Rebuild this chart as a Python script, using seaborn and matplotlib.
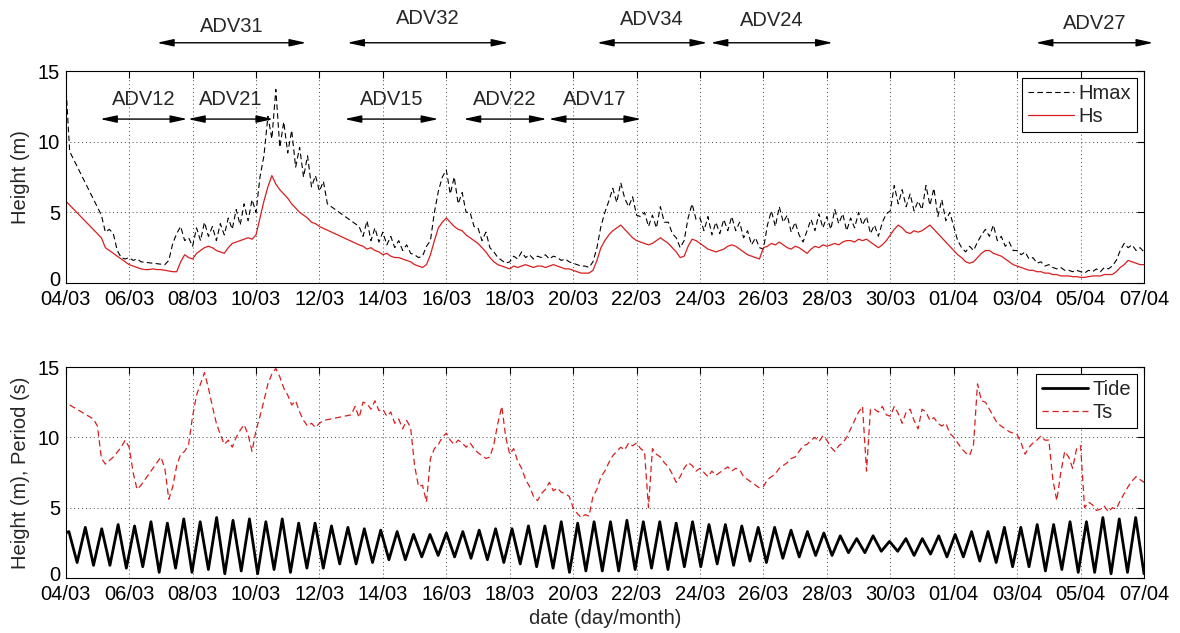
import numpy as np
import pandas as pd
import matplotlib
matplotlib.use("Agg")
import matplotlib.pyplot as plt
import matplotlib.dates as mdates
import matplotlib.transforms as mtransforms
import seaborn as sns

# TIME AXIS
start = pd.Timestamp("2013-03-04")
end = pd.Timestamp("2013-04-07")
step_hours = 3  # wave series every 3 hours

# WAVE HEIGHT Hmax (m), one row per day (04/03 ... 06/04), None = no data
hmax = [
    14.2, 9.3, None, None, None, None, None, None,
    None, 4.8, 3.6, 3.8, 3.5, 2.3, 1.8, 1.7,
    1.8, 1.6, 1.7, 1.5, None, None, None, None,
    None, 1.3, 1.6, 2.8, 3.5, 4.0, 3.0, 3.2,
    2.6, 3.9, 3.0, 4.3, 3.3, 4.0, 3.0, 4.2,
    3.4, 4.6, 3.8, 5.2, 4.1, 5.6, 4.4, 5.9,
    5.0, 7.5, 9.0, 11.8, 10.2, 13.7, 9.6, 11.4,
    9.2, 10.8, 8.2, 9.6, 7.5, 9.0, 6.8, 7.6,
    6.5, 7.2, 5.6, None, None, None, None, None,
    None, None, 4.0, 3.3, 4.4, 3.0, 3.9, 2.9,
    3.6, 2.7, 3.3, 2.5, 3.0, 2.3, 2.7, 2.1,
    2.0, 1.8, 1.9, 2.6, 3.0, 5.0, 6.5, 7.5,
    8.0, 6.3, 7.5, 5.6, 6.4, 5.0, 5.0, 4.0,
    3.9, 3.0, 3.6, 2.5, 2.2, 1.8, 1.6, 1.4,
    1.5, 1.9, 1.7, 2.2, 1.8, 2.0, 1.7, 1.9,
    1.8, 2.0, 1.7, 1.9, 1.8, 1.6, 1.7, 1.5,
    1.4, 1.3, 1.2, 1.2, 1.1, 1.5, 2.5, 4.0,
    5.0, 5.8, 6.7, 5.7, 7.1, 6.0, 5.4, 6.1,
    4.8, 4.7, 5.0, 4.0, 4.8, 3.9, 5.4, 4.3,
    4.3, 3.5, 3.2, 2.5, 3.0, 4.6, 5.6, 4.5,
    4.6, 3.7, 4.7, 3.4, 4.3, 3.5, 4.5, 3.7,
    4.7, 3.7, 4.3, 3.2, 3.7, 2.7, 3.2, 2.5,
    2.4, 4.1, 5.1, 4.0, 5.4, 4.3, 4.8, 3.6,
    4.3, 3.4, 2.9, 3.7, 4.5, 3.7, 4.9, 3.9,
    4.7, 3.8, 5.2, 4.2, 4.9, 3.7, 4.6, 3.9,
    5.0, 4.1, 4.7, 3.5, 4.1, 3.3, 4.3, 4.9,
    5.1, 6.9, 5.6, 6.6, 5.4, 6.3, 5.1, 5.8,
    5.2, 6.9, 5.5, 6.7, 4.7, 5.9, 4.4, 5.0,
    4.0, 3.0, 2.5, 2.2, 2.6, 2.3, 2.9, 3.4,
    3.8, 3.3, 4.1, 3.0, 3.3, 2.6, 2.9, 2.3,
    2.3, 2.0, 2.2, 1.7, 1.8, 1.4, 1.5, 1.2,
    1.3, 1.1, 1.0, 1.1, 0.9, 0.9, 0.8, 0.9,
    0.8, 0.7, 0.9, 0.8, 1.0, 0.8, 1.1, 1.0,
    1.2, 1.6, 2.3, 2.8, 2.5, 2.7, 2.3, 2.5,
    2.2,
]

# SIGNIFICANT WAVE HEIGHT Hs (m)
hs = [
    5.8, None, None, None, None, None, None, None,
    None, 3.2, 2.5, 2.3, 2.1, 1.9, 1.7, 1.5,
    1.3, 1.2, 1.1, 1.0, 0.95, 0.95, 1.0, 0.95,
    0.95, 0.9, 0.85, 0.8, 0.8, 1.5, 2.0, 1.8,
    1.7, 2.1, 2.3, 2.5, 2.6, 2.5, 2.3, 2.2,
    2.1, 2.5, 2.8, 2.9, 3.0, 3.1, 3.2, 3.1,
    3.4, 4.6, 5.8, 6.8, 7.6, 7.0, 6.6, 6.3,
    6.0, 5.6, 5.3, 5.0, 4.8, 4.6, 4.3, 4.2,
    4.0, None, None, None, None, None, None, None,
    None, None, 2.7, 2.6, 2.4, 2.5, 2.3, 2.2,
    2.0, 2.1, 1.9, 1.8, 1.8, 1.7, 1.6, 1.5,
    1.3, 1.2, 1.1, 1.3, 2.0, 3.0, 3.9, 4.3,
    4.6, 4.3, 4.0, 3.8, 3.7, 3.4, 3.2, 3.0,
    2.8, 2.5, 2.2, 1.8, 1.5, 1.3, 1.2, 1.1,
    1.0, 1.2, 1.1, 1.2, 1.3, 1.2, 1.1, 1.2,
    1.2, 1.1, 1.2, 1.3, 1.2, 1.1, 1.0, 1.0,
    0.9, 0.8, 0.7, 0.7, 0.7, 0.9, 1.6, 2.5,
    3.0, 3.4, 3.7, 3.9, 4.1, 3.8, 3.5, 3.2,
    3.0, 2.9, 2.8, 2.7, 2.8, 3.0, 3.2, 3.0,
    2.8, 2.5, 2.2, 1.8, 1.9, 2.6, 3.1, 3.0,
    2.8, 2.6, 2.4, 2.3, 2.2, 2.3, 2.4, 2.6,
    2.7, 2.6, 2.4, 2.2, 2.0, 1.9, 1.8, 1.7,
    2.5, 2.6, 2.8, 2.7, 2.9, 2.7, 2.5, 2.4,
    2.6, 2.5, 2.3, 2.1, 2.4, 2.6, 2.5, 2.7,
    2.6, 2.7, 2.8, 2.7, 2.9, 3.0, 3.0, 2.9,
    3.1, 3.0, 3.1, 2.9, 2.7, 2.5, 2.7, 3.0,
    3.4, 3.8, 4.1, 3.9, 3.6, 3.5, 3.7, 3.6,
    3.7, 3.9, 4.1, 3.8, 3.5, 3.2, 2.9, 2.6,
    2.3, 2.0, 1.8, 1.5, 1.4, 1.5, 1.8, 2.1,
    2.3, 2.3, 2.1, 2.0, 1.9, 1.7, 1.5, 1.3,
    1.2, 1.1, 1.0, 0.9, 0.9, 0.8, 0.8, 0.7,
    0.7, 0.6, 0.6, 0.5, 0.5, 0.5, 0.45, 0.45,
    0.4, 0.4, 0.45, 0.5, 0.5, 0.5, 0.6, 0.6,
    0.6, 0.8, 1.1, 1.3, 1.6, 1.5, 1.4, 1.3,
    1.3,
]

# WAVE PERIOD Ts (s)
ts = [
    None, 12.3, None, None, None, None, None, 11.3,
    10.8, 8.5, 8.1, None, 8.6, None, 9.3, 9.8,
    9.3, 7.5, 6.3, 6.6, None, None, 7.8, 8.2,
    8.6, 7.8, 5.6, 6.5, 8.0, 8.8, 9.0, 9.5,
    11.5, 13.0, 13.8, 14.6, 13.5, 12.2, 11.0, 10.2,
    9.5, 9.8, 9.3, 10.0, 10.5, 10.9, 10.2, 9.0,
    10.5, 11.5, 12.6, 13.8, 14.5, 14.9, 14.3, 13.5,
    13.0, 12.3, 12.6, 11.8, 11.2, 10.8, 11.0, 10.7,
    11.0, 11.2, None, None, None, None, None, None,
    11.6, 12.2, 11.4, 12.5, 12.4, 12.0, 12.6, 11.9,
    12.0, 11.5, 11.8, 11.0, 11.3, 10.6, 11.2, 10.7,
    8.0, 6.5, 6.6, 5.4, 8.5, 9.2, 9.5, 10.0,
    10.3, 9.8, 9.5, 9.8, 9.6, 9.3, 9.6, 9.2,
    8.9, 8.7, 8.5, 8.6, 9.5, 11.0, 12.2, 10.0,
    8.8, 9.2, 8.3, 7.8, 7.0, 6.5, 5.8, 5.5,
    6.0, 6.3, 6.8, 6.2, 6.4, 6.1, 6.0, 5.8,
    5.0, 4.6, 4.3, 4.5, 4.4, 5.8, 6.3, 7.2,
    7.6, 8.2, 8.7, 9.0, 9.3, 9.1, 9.6, 9.4,
    9.6, 9.2, 9.0, 5.0, 9.2, 8.8, 8.6, 8.2,
    7.9, 7.4, 6.8, 7.2, 7.8, 8.2, 8.0, 7.6,
    7.8, 7.5, 7.2, 7.6, 7.3, 7.5, 7.7, 7.9,
    7.6, 7.8, 7.7, 7.2, 7.0, 6.8, 6.6, 6.4,
    6.5, 7.0, 7.2, 7.4, 7.8, 8.0, 8.2, 8.5,
    8.6, 9.0, 9.4, 9.5, 9.8, 10.0, 9.7, 10.1,
    9.8, 9.3, 9.0, 9.4, 9.6, 10.0, 10.6, 11.2,
    11.8, 12.2, 7.6, 12.0, 12.0, 11.8, 12.2, 11.6,
    11.5, 12.2, 11.7, 11.0, 11.8, 12.0, 11.2, 10.6,
    12.0, 11.8, 11.2, 11.4, 11.0, 10.8, 11.0, 10.3,
    10.0, 9.6, 9.2, 8.9, 8.7, 9.5, 13.8, 12.6,
    12.5, 12.0, 11.5, 11.0, 10.8, 10.6, 10.4, 10.3,
    10.2, 9.6, 8.8, 9.3, 9.6, 9.8, 10.1, 9.8,
    9.8, 7.0, 5.5, 7.5, 9.0, 8.6, 7.8, 9.2,
    9.4, 5.0, 5.4, 5.2, 4.8, 4.9, 5.1, 4.7,
    5.0, 4.9, 5.5, 6.0, 6.5, 6.9, 7.2, 7.0,
    6.8,
]

# TIDE (m): successive high and low waters
tide_start = 3.2
tide_high = [3.3, 3.6, 3.5, 3.8, 3.7, 4.0, 3.9, 4.2, 4.0, 4.3, 4.1, 4.2,
             4.0, 4.2, 3.9, 3.9, 3.7, 3.6, 3.5, 3.4, 3.3, 3.1, 3.1, 3.2,
             3.3, 3.4, 3.5, 3.5, 3.7, 3.7, 4.0, 3.9, 4.0, 4.0, 4.1, 4.0,
             4.0, 3.9, 4.0, 3.8, 3.8, 3.7, 3.6, 3.6, 3.4, 3.3, 3.2, 3.0,
             2.8, 3.0, 2.6, 2.8, 2.8, 3.0, 3.1, 3.3, 3.3, 3.6, 3.6, 3.8,
             3.8, 4.0, 4.0, 4.3, 4.2, 4.3]
tide_low = [1.1, 0.9, 0.9, 0.7, 0.8, 0.4, 0.7, 0.4, 0.6, 0.3, 0.5, 0.3,
            0.6, 0.4, 0.7, 0.7, 1.0, 1.0, 1.1, 1.3, 1.3, 1.5, 1.6, 1.5,
            1.4, 1.3, 1.1, 1.0, 0.8, 0.7, 0.4, 0.5, 0.5, 0.5, 0.6, 0.7,
            0.6, 0.8, 0.8, 1.0, 0.9, 1.2, 1.1, 1.4, 1.5, 1.6, 1.6, 1.8,
            1.8, 1.9, 1.9, 1.6, 1.7, 1.5, 1.5, 1.2, 1.1, 0.8, 0.8, 0.5,
            0.6, 0.4, 0.4, 0.3, 0.4]
tide_end = 0.3
first_high_h = 2.4      # hours after 04/03 00:00
tide_period_h = 12.42   # semidiurnal

# INSTRUMENT DEPLOYMENTS
adv_top = ["ADV31", "ADV32", "ADV34", "ADV24", "ADV27"]
adv_top_from = ["2013-03-06 21:00", "2013-03-12 21:00", "2013-03-20 18:00",
                "2013-03-24 08:00", "2013-04-03 14:00"]
adv_top_to = ["2013-03-11 14:00", "2013-03-17 23:00", "2013-03-24 05:30",
              "2013-03-28 04:30", "2013-04-07 07:00"]
adv_top_label_y = [18.15, 18.7, 18.65, 18.55, 18.35]
adv_low = ["ADV12", "ADV21", "ADV15", "ADV22", "ADV17"]
adv_low_from = ["2013-03-05 02:00", "2013-03-07 20:30", "2013-03-12 19:00",
                "2013-03-16 13:00", "2013-03-19 05:30"]
adv_low_to = ["2013-03-07 20:00", "2013-03-10 13:00", "2013-03-15 18:00",
              "2013-03-19 04:00", "2013-03-22 03:30"]

ticks = pd.date_range(start, end, freq="2D")


def series(values, name):
    t = start + pd.to_timedelta(np.arange(len(values)) * step_hours, unit="h")
    return pd.DataFrame({"time": t, name: values}).dropna()


# TIDE TABLE: alternate high / low waters
turning = []
for h, l in zip(tide_high, tide_low):
    turning += [h, l]
if len(tide_high) > len(tide_low):
    turning.append(tide_high[-1])
tide_t = [start] + [start + pd.Timedelta(hours=first_high_h + k * tide_period_h / 2)
                    for k in range(len(turning))] + [end]
tide_df = pd.DataFrame({"time": tide_t, "Tide": [tide_start] + turning + [tide_end]})

# STYLE
sns.set_style("white")
plt.rcParams["font.family"] = ["Liberation Sans", "DejaVu Sans"]
plt.rcParams["font.size"] = 14.5

fig = plt.figure(figsize=(11.8, 6.33), dpi=100)
ax1 = fig.add_axes([0.0557, 0.5529, 0.9138, 0.3349])
ax2 = fig.add_axes([0.0557, 0.0869, 0.9138, 0.3333])

red = "#d81e1e"

# TOP PANEL: WAVE HEIGHTS
sns.lineplot(data=series(hmax, "Hmax"), x="time", y="Hmax", ax=ax1, color="k",
             linewidth=0.8, linestyle=(0, (5, 3)), label="Hmax")
sns.lineplot(data=series(hs, "Hs"), x="time", y="Hs", ax=ax1, color=red,
             linewidth=0.9, label="Hs")
ax1.set_ylabel("Height (m)", labelpad=6)
ax1.set_xlabel("")

# BOTTOM PANEL: TIDE AND PERIOD
sns.lineplot(data=tide_df, x="time", y="Tide", ax=ax2, color="k",
             linewidth=2.0, solid_joinstyle="round", label="Tide")
sns.lineplot(data=series(ts, "Ts"), x="time", y="Ts", ax=ax2, color=red,
             linewidth=0.9, linestyle=(0, (5, 3)), label="Ts")
ax2.set_ylabel("Height (m), Period (s)", labelpad=6)
ax2.set_xlabel("date (day/month)", labelpad=4)

for ax in (ax1, ax2):
    ax.set_xlim(start, end)
    ax.set_ylim(0, 15)
    ax.set_yticks([0, 5, 10, 15])
    ax.set_xticks(ticks)
    ax.xaxis.set_major_formatter(mdates.DateFormatter("%d/%m"))
    ax.grid(True, linestyle=(0, (1, 3)), color="#444444", linewidth=0.7)
    ax.tick_params(direction="in", top=True, right=True, length=5,
                   width=0.8, colors="k", labelsize=14.5)
    ax.tick_params(axis="x", pad=5)
    ax.tick_params(axis="y", pad=4)
    for s in ax.spines.values():
        s.set_color("k")
        s.set_linewidth(0.8)
    # the "0" sits just above the first date label, as in the original
    zero = ax.yaxis.get_major_ticks()[0].label1
    zero.set_transform(zero.get_transform() +
                       mtransforms.ScaledTranslation(0, 3 / 72, fig.dpi_scale_trans))
    ax.legend(loc="upper right", frameon=True, fancybox=False, edgecolor="k",
              framealpha=1, handlelength=2.3, handletextpad=0.2,
              borderaxespad=0.35, labelspacing=0.2, borderpad=0.3,
              fontsize=14.5).get_frame().set_linewidth(0.8)

# DEPLOYMENT ARROWS
arrow = dict(arrowstyle="<|-|>,head_length=1.0,head_width=0.22", color="k",
             lw=1.0, shrinkA=0, shrinkB=0, mutation_scale=10)
for name, a, b, ly in zip(adv_top, adv_top_from, adv_top_to, adv_top_label_y):
    a, b = mdates.date2num(pd.Timestamp(a)), mdates.date2num(pd.Timestamp(b))
    ax1.annotate("", xy=(b, 17.0), xytext=(a, 17.0), arrowprops=arrow,
                 annotation_clip=False)
    ax1.text((a + b) / 2, ly, name, ha="center", va="center", clip_on=False)
for name, a, b in zip(adv_low, adv_low_from, adv_low_to):
    a, b = mdates.date2num(pd.Timestamp(a)), mdates.date2num(pd.Timestamp(b))
    ax1.annotate("", xy=(b, 11.6), xytext=(a, 11.6), arrowprops=arrow)
    ax1.text((a + b) / 2, 13.0, name, ha="center", va="center")

fig.savefig("out.png", dpi=100)
